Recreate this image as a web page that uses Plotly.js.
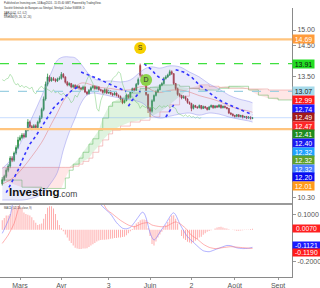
<!DOCTYPE html>
<html>
<head>
<meta charset="utf-8">
<script src="https://cdn.plot.ly/plotly-3.0.1.min.js"></script>
<style>
  html, body { margin: 0; padding: 0; background: #fff; }
  #chart { width: 320px; height: 288px; }
</style>
</head>
<body>
<div id="chart"></div>
<script>
// ---- Daily prices, one entry per trading day from 19 Feb 2024 to 14 Aug 2024 ----
const opens = [10.62,10.72,10.80,10.95,11.05,11.25,11.20,11.38,11.52,11.72,11.78,11.85,11.80,11.98,12.20,12.08,12.02,12.10,12.05,12.20,
  12.32,12.55,12.85,13.28,13.50,13.38,13.45,13.42,13.38,13.44,13.46,13.58,13.50,13.34,13.26,13.30,13.20,13.25,13.18,13.22,
  13.17,13.14,13.20,13.05,13.00,13.10,13.18,13.22,13.15,13.20,13.12,13.10,13.04,13.12,13.02,13.08,13.00,12.97,13.02,12.95,
  12.92,12.85,12.74,12.80,12.96,12.90,13.05,13.15,13.10,13.28,13.85,13.55,13.40,13.30,12.98,12.58,12.50,12.80,12.95,13.05,
  13.12,13.25,13.30,13.45,13.50,13.56,13.66,13.60,13.30,13.15,12.98,12.95,12.88,12.92,12.85,12.75,12.72,12.58,12.66,12.62,
  12.60,12.66,12.58,12.63,12.60,12.55,12.62,12.66,12.60,12.65,12.62,12.67,12.60,12.64,12.61,12.58,12.45,12.42,12.38,12.36,
  12.40,12.35,12.38,12.33,12.35,12.31,12.34,12.30];
const highs = [10.78,10.84,11.00,11.10,11.30,11.30,11.42,11.58,11.80,11.84,11.90,11.90,12.02,12.28,12.24,12.12,12.14,12.14,12.24,12.38,
  12.60,12.92,13.36,13.60,13.55,13.50,13.50,13.46,13.48,13.52,13.65,13.62,13.52,13.38,13.34,13.32,13.28,13.28,13.26,13.25,
  13.20,13.24,13.22,13.08,13.14,13.22,13.26,13.25,13.24,13.22,13.15,13.12,13.16,13.14,13.12,13.10,13.03,13.05,13.04,12.98,
  12.95,12.86,12.84,13.00,12.98,13.08,13.18,13.18,13.32,13.48,13.91,13.58,13.44,13.32,13.00,12.62,12.84,12.98,13.10,13.16,
  13.28,13.34,13.50,13.55,13.60,13.72,13.70,13.62,13.32,13.18,13.02,12.97,12.96,12.94,12.87,12.78,12.74,12.70,12.68,12.64,
  12.69,12.67,12.66,12.65,12.62,12.65,12.69,12.68,12.67,12.67,12.70,12.69,12.66,12.66,12.62,12.59,12.47,12.44,12.40,12.42,
  12.42,12.40,12.40,12.37,12.37,12.36,12.35,12.34];
const lows = [10.58,10.68,10.76,10.90,11.00,11.15,11.16,11.34,11.48,11.68,11.74,11.76,11.78,11.95,12.04,11.98,11.99,12.01,12.02,12.16,
  12.28,12.50,12.80,13.22,13.34,13.36,13.38,13.34,13.35,13.40,13.42,13.46,13.30,13.22,13.22,13.16,13.17,13.14,13.15,13.12,
  13.10,13.11,13.02,12.96,12.98,13.07,13.15,13.12,13.12,13.09,13.06,13.00,13.01,12.99,13.00,12.97,12.93,12.95,12.92,12.88,
  12.82,12.70,12.72,12.78,12.86,12.88,13.02,13.06,13.08,13.25,13.48,13.36,13.26,12.94,12.45,12.34,12.46,12.76,12.92,13.02,
  13.10,13.22,13.27,13.42,13.47,13.53,13.56,13.26,13.10,12.94,12.90,12.84,12.86,12.80,12.71,12.68,12.50,12.55,12.59,12.57,
  12.58,12.55,12.56,12.57,12.52,12.53,12.60,12.57,12.58,12.59,12.60,12.57,12.58,12.58,12.55,12.42,12.39,12.35,12.32,12.33,
  12.33,12.33,12.30,12.31,12.28,12.29,12.27,12.28];
const closes = [10.72,10.80,10.95,11.05,11.25,11.20,11.38,11.52,11.72,11.78,11.85,11.80,11.98,12.20,12.08,12.02,12.10,12.05,12.20,12.32,
  12.55,12.85,13.28,13.50,13.38,13.45,13.42,13.38,13.44,13.46,13.58,13.50,13.34,13.26,13.30,13.20,13.25,13.18,13.22,13.17,
  13.14,13.20,13.05,13.00,13.10,13.18,13.22,13.15,13.20,13.12,13.10,13.04,13.12,13.02,13.08,13.00,12.97,13.02,12.95,12.92,
  12.85,12.74,12.80,12.96,12.90,13.05,13.15,13.10,13.28,13.42,13.55,13.40,13.30,12.98,12.58,12.50,12.80,12.95,13.05,13.12,
  13.25,13.30,13.45,13.50,13.56,13.66,13.60,13.30,13.15,12.98,12.95,12.88,12.92,12.85,12.75,12.72,12.58,12.66,12.62,12.60,
  12.66,12.58,12.63,12.60,12.55,12.62,12.66,12.60,12.65,12.62,12.67,12.60,12.64,12.61,12.58,12.45,12.42,12.38,12.36,12.40,
  12.35,12.38,12.33,12.35,12.31,12.34,12.30,12.32];

// ---- Bollinger Bands (20, 2), sampled by bar index ----
const bbBars  = [0,5,10,15,20,25,28,31,34,37,40,43,46,50,55,60,65,70,73,76,80,85,90,95,100,105,110,115,120,125,127];
const bbUpper = [10.99,11.25,11.72,12.31,12.93,13.65,14.02,14.12,14.12,14.09,13.90,13.65,13.47,13.38,13.38,13.35,13.41,13.65,13.77,13.81,
  13.77,13.84,13.81,13.65,13.50,13.29,13.14,12.96,12.85,12.78,12.74];
const bbLower = [10.24,10.24,10.24,10.28,10.38,10.66,10.90,11.46,11.93,12.31,12.73,12.96,13.02,12.99,12.93,12.87,12.82,12.76,12.65,12.39,
  12.31,12.36,12.42,12.45,12.39,12.45,12.42,12.34,12.28,12.23,12.20];

// ---- Ichimoku cloud (9, 26, 52, 26): leading spans, projected 26 bars ahead ----
const cloudBars = [0,10,20,30,32,34,36,39,41,44,46,49,51,54,56,60,65,70,75,80,85,90,95,100,105,110,115,120,125,130,135,140,145,147];
const spanA = [10.71,10.54,10.51,10.51,10.76,10.95,11.10,11.25,11.40,11.61,11.75,11.98,12.31,12.64,12.76,12.87,13.02,13.16,13.19,13.26,
  13.26,13.22,13.16,13.11,13.11,13.16,13.22,13.22,13.11,12.96,12.87,12.82,12.82,12.82];
const spanB = [11.02,11.02,11.02,11.02,11.02,11.02,11.05,11.10,11.17,11.25,11.40,11.56,11.72,11.88,11.98,12.09,12.20,12.25,12.34,12.48,
  12.68,12.93,13.16,13.26,13.22,13.19,13.16,13.16,13.14,13.14,13.11,13.11,13.11,13.11];
const laggingShift = 26;

// ---- Parabolic SAR (0.02, 0.2); null separates the trend legs ----
const sarBars = [2,5,8,11,14,17,20,23,26,29,32,35,38,39, 39, 40,45,50,55,60,63, 63, 64,66,68,70, 71, 72,74,76,78,80,82, 82,
  83,84,85,86,87, 87, 88,92,96,100,104,108,112,116,120,124,127];
const sarValues = [10.41,10.68,10.95,11.30,11.61,11.82,12.06,12.34,12.59,12.76,12.93,13.08,13.19,13.22, null,
  13.65,13.54,13.41,13.27,13.15,13.07, null, 12.64,12.82,12.93,13.08, null, 13.91,13.81,13.71,13.56,13.47,13.41, null,
  12.34,12.42,12.50,12.59,12.68, null, 13.72,13.65,13.50,13.26,13.08,12.90,12.76,12.66,12.56,12.46,12.40];

// ---- Signals ----
const signalText = ['S','D'];
const signalBars = [70,73];
const signalPrices = [14.41,13.41];
const signalColors = ['#F6D000','#8CD24A'];

// ---- MACD (12, 26, close, 9) ----
const macdHist = [0.06,0.075,0.09,0.09,0.10,0.13,0.145,0.15,0.15,0.145,0.14,0.11,0.10,0.095,0.09,0.08,0.06,0.045,0.03,0.035,
  0.04,0.07,0.10,0.14,0.15,0.15,0.135,0.10,0.06,0.03,0.01,-0.01,-0.03,-0.05,-0.07,-0.085,-0.10,-0.115,-0.12,-0.122,
  -0.123,-0.12,-0.12,-0.118,-0.11,-0.10,-0.092,-0.085,-0.075,-0.068,-0.066,-0.064,-0.063,-0.062,-0.06,-0.058,-0.055,-0.053,-0.052,-0.05,
  -0.05,-0.047,-0.045,-0.035,-0.023,-0.01,0.005,0.025,0.04,0.05,0.06,0.066,0.066,0.062,0.01,-0.04,-0.09,-0.10,-0.075,-0.05,
  -0.03,-0.013,0.015,0.03,0.05,0.072,0.09,0.093,0.07,0.04,0.0,-0.04,-0.055,-0.065,-0.076,-0.082,-0.087,-0.08,-0.07,-0.06,
  -0.05,-0.045,-0.032,-0.023,-0.013,-0.008,-0.004,0.0,0.008,0.015,0.018,0.019,0.015,0.01,0.008,0.003,0.0,-0.002,-0.004,-0.006,
  -0.006,-0.005,-0.003,-0.002,-0.002,0.002,0.005,0.007];
const macdBars = [0,2,4,5,6,8,15,25,35,45,48,50,55,58,61,63,65,67,69,71,72,73,75,76,77,78,80,83,86,87,88,90,92,94,97,100,102,105,108,111,114,116,119,122,125,127];
const macdLine = [-0.023,0.03,0.09,0.15,0.21,0.30,0.40,0.50,0.45,0.35,0.22,0.16,0.10,0.045,0.01,0.006,0.015,0.045,0.08,0.112,
  0.105,0.075,-0.02,-0.05,-0.066,-0.055,-0.015,0.04,0.10,0.108,0.095,0.04,-0.005,-0.045,-0.08,-0.115,-0.134,-0.14,-0.127,-0.113,
  -0.10,-0.102,-0.115,-0.12,-0.118,-0.1121];
const sigBars = [0,3,6,8,10,15,25,35,45,48,51,53,56,60,64,67,71,74,76,80,83,86,88,90,93,96,99,102,105,108,112,116,120,124,127];
const signalLine = [-0.087,-0.034,0.04,0.125,0.20,0.30,0.42,0.50,0.45,0.35,0.18,0.13,0.10,0.06,0.03,0.019,0.04,0.045,0.03,0.02,
  0.02,0.04,0.05,0.04,0.01,-0.035,-0.06,-0.092,-0.112,-0.12,-0.114,-0.108,-0.112,-0.116,-0.119];

// ---- Horizontal levels and right-hand price tags ----
const levelValues = [14.69, 13.91, 13.07, 12.01];
const levelColors = ['#FFC47E', '#3FE03F', '#9DD0E2', '#FFC47E'];
const levelDash   = ['solid', 'dash', 'dash', 'solid'];
const tagText   = ['14.69','13.91','13.07','12.99','12.74','12.49','12.47','12.41','12.40','12.32','12.32','12.32','12.20','12.01'];
const tagColors = ['#FF9B3A','#22DD22','#A6DAEA','#FF1A1A','#1A1AFF','#A21A1A','#FF2626','#1E8C1E','#1A1AF2','#1FA2FF','#5FA12A','#4A82FF','#0A0AF0','#FF9A1A'];
const tagFont   = ['#fff','#111','#222','#fff','#fff','#fff','#fff','#fff','#fff','#fff','#fff','#fff','#fff','#fff'];
const macdTagText   = ['0.0070','-0.1121','-0.1190'];
const macdTagColors = ['#FF2020','#1A1AFF','#FF1A1A'];

const xTickVals = ['2024-03-01','2024-04-01','2024-05-03','2024-06-03','2024-07-02','2024-08-01','2024-09-02'];
const xTickText = ['Mars','Avr','3','Juin','2','Août','Sept'];

// ---- trading calendar (weekdays) ----
function tradingDays(start, n) {
  const out = [];
  const d = new Date(start + 'T00:00:00Z');
  while (out.length < n) {
    const w = d.getUTCDay();
    if (w !== 0 && w !== 6) out.push(d.toISOString().slice(0, 10));
    d.setUTCDate(d.getUTCDate() + 1);
  }
  return out;
}
const days = tradingDays('2024-02-19', 152);
const at = idx => idx.map(i => days[i]);
const nBars = closes.length;

// ---- geometry ----
const W = 320, H = 288, M = {l: 0, r: 28, t: 8, b: 11};
const plotH = H - M.t - M.b, plotW = W - M.l - M.r;
const macdDomTop = 73 / plotH;
const yLo = Math.log10(10.15), yHi = Math.log10(15.76);
const mLo = -0.301, mHi = 0.164;
const pxOfPrice = v => M.t + (1 - macdDomTop) * plotH * (yHi - Math.log10(v)) / (yHi - yLo);
const pxOfMacd = v => M.t + (1 - macdDomTop) * plotH + macdDomTop * plotH * (mHi - v) / (mHi - mLo);
const paperY = px => (H - M.b - px) / plotH;

const traces = [];

// Ichimoku cloud fills (green where span A leads, red where span B leads)
const cloudX = at(cloudBars);
const cloudTop = spanA.map((a, i) => Math.max(a, spanB[i]));
traces.push({x: cloudX, y: spanB, type: 'scatter', mode: 'lines', line: {width: 0}, hoverinfo: 'skip'});
traces.push({x: cloudX, y: cloudTop, type: 'scatter', mode: 'lines', line: {width: 0}, fill: 'tonexty', fillcolor: 'rgba(110,200,110,0.22)', hoverinfo: 'skip'});
traces.push({x: cloudX, y: spanA, type: 'scatter', mode: 'lines', line: {width: 0}, hoverinfo: 'skip'});
traces.push({x: cloudX, y: cloudTop, type: 'scatter', mode: 'lines', line: {width: 0}, fill: 'tonexty', fillcolor: 'rgba(255,130,130,0.2)', hoverinfo: 'skip'});
traces.push({x: cloudX, y: spanA, type: 'scatter', mode: 'lines', line: {color: 'rgba(70,175,70,0.55)', width: 0.8, shape: 'hv'}});
traces.push({x: cloudX, y: spanB, type: 'scatter', mode: 'lines', line: {color: 'rgba(230,110,110,0.5)', width: 0.8, shape: 'hv'}});

// Bollinger Bands
const bbX = at(bbBars);
traces.push({x: bbX, y: bbLower, type: 'scatter', mode: 'lines', line: {color: 'rgba(125,125,235,0.5)', width: 0.8, shape: 'spline'}});
traces.push({x: bbX, y: bbUpper, type: 'scatter', mode: 'lines', line: {color: 'rgba(125,125,235,0.5)', width: 0.8, shape: 'spline'},
  fill: 'tonexty', fillcolor: 'rgba(130,130,230,0.17)'});
traces.push({x: bbX, y: bbUpper.map((u, i) => (u + bbLower[i]) / 2), type: 'scatter', mode: 'lines',
  line: {color: 'rgba(225,90,90,0.5)', width: 0.8, shape: 'spline'}});

// Lagging span: closes drawn 26 bars back
traces.push({x: days.slice(0, nBars - laggingShift), y: closes.slice(laggingShift), type: 'scatter', mode: 'lines',
  line: {color: 'rgba(110,200,110,0.6)', width: 0.8}});

// Candles
traces.push({
  type: 'candlestick', x: days.slice(0, nBars), open: opens, high: highs, low: lows, close: closes,
  increasing: {line: {color: '#2A8F45', width: 0.8}, fillcolor: '#2A8F45'},
  decreasing: {line: {color: '#A83434', width: 0.8}, fillcolor: '#A83434'},
  whiskerwidth: 0, hoverinfo: 'skip'
});

// Parabolic SAR dots
traces.push({x: at(sarBars), y: sarValues, type: 'scatter', mode: 'lines', connectgaps: false,
  line: {color: '#3434FF', width: 1.6, dash: 'dot'}});

// Signal badges
traces.push({x: at(signalBars), y: signalPrices, type: 'scatter', mode: 'markers+text', text: signalText,
  textposition: 'middle center', textfont: {size: 7, color: '#333', family: 'Liberation Sans, Arial, sans-serif'},
  marker: {size: 12, color: signalColors, line: {width: 0}}, cliponaxis: false});

// MACD panel
traces.push({x: days.slice(0, nBars), y: macdHist, type: 'bar', yaxis: 'y2', width: 0.5 * 86400000,
  marker: {color: 'rgba(255,115,115,0.6)', line: {width: 0}}});
traces.push({x: at(macdBars), y: macdLine, type: 'scatter', mode: 'lines', yaxis: 'y2',
  line: {color: 'rgba(110,110,255,0.6)', width: 0.9, shape: 'spline', smoothing: 0.6}});
traces.push({x: at(sigBars), y: signalLine, type: 'scatter', mode: 'lines', yaxis: 'y2',
  line: {color: 'rgba(255,110,110,0.6)', width: 0.9, shape: 'spline', smoothing: 0.6}});

// ---- shapes ----
const shapes = levelValues.map((v, i) => ({
  type: 'line', xref: 'paper', x0: 0, x1: 1, yref: 'y', y0: v, y1: v,
  line: {color: levelColors[i], width: levelDash[i] === 'solid' ? 2.2 : 1.3, dash: levelDash[i]}
}));
shapes.push({type: 'line', xref: 'paper', x0: 0, x1: 1, yref: 'y', y0: closes[nBars - 1], y1: closes[nBars - 1],
  line: {color: 'rgba(100,160,255,0.45)', width: 0.8}});
shapes.push({type: 'line', xref: 'paper', x0: 0, x1: 1, yref: 'paper', y0: macdDomTop, y1: macdDomTop,
  line: {color: '#9a9a9a', width: 2}});

// ---- annotations ----
const font = 'Liberation Sans, Arial, sans-serif';
const annotations = [];
const firstSlot = pxOfPrice(13.07);
tagText.forEach((t, i) => {
  const px = i < 3 ? pxOfPrice(levelValues[i]) : firstSlot + 8.6 * (i - 2);
  annotations.push({xref: 'paper', yref: 'paper', x: 1, y: paperY(px), xanchor: 'left', yanchor: 'middle',
    text: t, showarrow: false, bgcolor: tagColors[i], width: 21, height: 8, borderpad: 0, align: 'center',
    font: {size: 7, color: tagFont[i], family: font}});
});
// MACD tags: stacked upward from the lowest so they clear the -0.2000 tick
const macdSlots = [pxOfMacd(0.007), pxOfMacd(-0.1121) - 2, pxOfMacd(-0.1121) + 5.4];
macdTagText.forEach((t, i) => {
  annotations.push({xref: 'paper', yref: 'paper', x: 1, y: paperY(macdSlots[i]), xanchor: 'left', yanchor: 'middle',
    text: t, showarrow: false, bgcolor: macdTagColors[i], width: 27, height: 7, borderpad: 0, align: 'center',
    font: {size: 6.8, color: '#fff', family: font}});
});

const headerLines = [
  ['Published on Investing.com, 14/Aug/2024 - 15:35:40 GMT, Powered by TradingView.', 3],
  ['Société Générale de Banques au Sénégal, Sénégal, Dakar:SGBSE, D', 7.5],
  ['SAR (0.02, 0.2, 0.2)', 12.5],
  ['BB (20, 2)', 15],
  ['Ichimoku (9, 26, 52, 26)', 17.5],
  ['MACD (12, 26, close, 9)', 207.5]
];
headerLines.forEach(([t, px]) => {
  annotations.push({xref: 'paper', yref: 'paper', x: 2 / plotW, y: paperY(px), xanchor: 'left', yanchor: 'middle',
    text: t, showarrow: false, font: {size: 2.6, color: '#333', family: font}});
});
annotations.push({xref: 'paper', yref: 'paper', x: 7 / plotW, y: paperY(192), xanchor: 'left', yanchor: 'middle',
  text: '<b>Investing</b>', showarrow: false, font: {size: 11.5, color: '#111', family: font}});
annotations.push({xref: 'paper', yref: 'paper', x: 57 / plotW, y: paperY(194), xanchor: 'left', yanchor: 'middle',
  text: '.com', showarrow: false, font: {size: 8.5, color: '#444', family: font}});

const layout = {
  width: W, height: H, margin: M, paper_bgcolor: '#fff', plot_bgcolor: '#fff',
  showlegend: false, hovermode: false, bargap: 0.5,
  font: {family: font, size: 7, color: '#555'},
  xaxis: {
    type: 'date', anchor: 'y2', domain: [0, 1],
    range: ['2024-02-15 20:24', '2024-09-11 01:00'],
    rangebreaks: [{bounds: ['sat', 'mon']}],
    rangeslider: {visible: false},
    tickmode: 'array', tickvals: xTickVals, ticktext: xTickText,
    ticks: 'outside', ticklen: 2, tickcolor: '#999',
    showgrid: false, zeroline: false, showline: true, linecolor: '#8a8a8a', linewidth: 1,
    tickfont: {size: 7, color: '#555'}
  },
  yaxis: {
    domain: [macdDomTop, 1], type: 'log', side: 'right', range: [yLo, yHi],
    tickmode: 'array', tickvals: [10.30, 13.50, 14.50, 15.00], ticktext: ['10.30', '13.50', '14.50', '15.00'],
    ticks: 'outside', ticklen: 3, tickcolor: '#999',
    showgrid: false, zeroline: false, showline: true, linecolor: '#8a8a8a', linewidth: 1,
    tickfont: {size: 7, color: '#555'}
  },
  yaxis2: {
    domain: [0, macdDomTop], side: 'right', anchor: 'x', range: [mLo, mHi],
    tickmode: 'array', tickvals: [0.1, -0.2], ticktext: ['0.1000', '-0.2000'],
    ticks: 'outside', ticklen: 3, tickcolor: '#999',
    showgrid: false, zeroline: false, showline: true, linecolor: '#8a8a8a', linewidth: 1,
    tickfont: {size: 7, color: '#555'}
  },
  shapes: shapes,
  annotations: annotations
};

Plotly.newPlot('chart', traces, layout, {staticPlot: true, displayModeBar: false});
</script>
</body>
</html>
